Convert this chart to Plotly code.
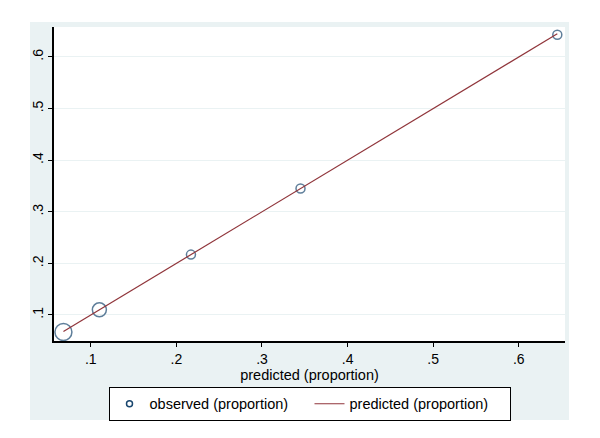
import plotly.graph_objects as go

# calibration: observed vs predicted proportion, by group
predicted = [0.068, 0.110, 0.217, 0.345, 0.645]
observed = [0.067, 0.110, 0.217, 0.345, 0.643]
group_weight = [17, 14, 9, 9, 9]  # marker diameter ~ group size

tick_vals = [0.1, 0.2, 0.3, 0.4, 0.5, 0.6]
tick_text = [".1", ".2", ".3", ".4", ".5", ".6"]

navy = "#1a476f"
maroon = "#90353b"
bg = "#eaf2f3"

fig = go.Figure()

fig.add_trace(go.Scatter(
    x=predicted, y=observed, mode="markers",
    marker=dict(symbol="circle-open", size=group_weight, color=navy,
                line=dict(width=1.5, color=navy)),
    showlegend=False, hoverinfo="skip",
))
# legend entry with a small marker, like the Stata legend key
fig.add_trace(go.Scatter(
    x=[None], y=[None], mode="markers", name="observed (proportion)",
    marker=dict(symbol="circle-open", size=6, color=navy,
                line=dict(width=1.5, color=navy)),
))
fig.add_trace(go.Scatter(
    x=predicted, y=predicted, mode="lines", name="predicted (proportion)",
    line=dict(color=maroon, width=1.2),
))

# page body adds ~8px offset, so margins are shifted up/left
fig.update_layout(
    width=600, height=438,
    margin=dict(l=46, r=43, t=19, b=105),
    paper_bgcolor="white",
    plot_bgcolor="white",
    font=dict(family="Liberation Sans, Arial, sans-serif", size=14, color="black"),
    shapes=[
        dict(type="rect", xref="paper", yref="paper", layer="below",
             x0=-24 / 511, x1=1 + 4 / 511, y0=-79 / 314, y1=1 + 5 / 314,
             fillcolor=bg, line=dict(width=0)),
        dict(type="rect", xref="paper", yref="paper", layer="below",
             x0=0, x1=1, y0=0, y1=1, fillcolor="white", line=dict(width=0)),
    ],
    xaxis=dict(
        range=[0.057, 0.654], tickvals=tick_vals, ticktext=tick_text,
        showgrid=False, zeroline=False, showline=True, linecolor="black",
        linewidth=1.5, ticks="outside", ticklen=4, tickcolor="black",
        title=dict(text="predicted (proportion)", standoff=0,
                   font=dict(size=14.5)),
    ),
    yaxis=dict(
        range=[0.0496, 0.658], tickvals=tick_vals, ticktext=tick_text,
        tickangle=-90, showgrid=True, gridcolor=bg, gridwidth=1,
        zeroline=False, showline=True, linecolor="black", linewidth=1.5,
        ticks="outside", ticklen=4, tickcolor="black",
    ),
    legend=dict(
        orientation="h", x=0.5, xanchor="center", y=-0.146, yanchor="top",
        bgcolor="white", bordercolor="black", borderwidth=1,
        font=dict(size=14.5), entrywidth=155, itemwidth=30,
    ),
)

fig.write_html("out.html")
